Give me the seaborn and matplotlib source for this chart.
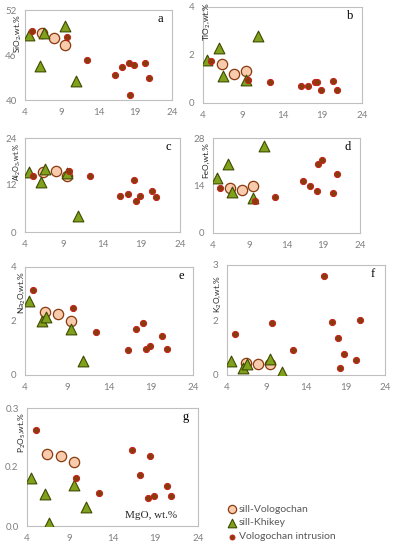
import numpy as np
import pandas as pd
import matplotlib
matplotlib.use("Agg")
import matplotlib.pyplot as plt
import seaborn as sns

sns.set_style("white")
plt.rcParams["font.family"] = ["Lato", "DejaVu Sans"]
plt.rcParams["mathtext.default"] = "regular"

# ==== data (MgO on x, oxide on y) ====
mgo_sill_v = [6.35, 7.95, 9.45]
mgo_khikey = [4.5, 6.05, 6.55, 9.45, 10.9]
mgo_intr = [5.0, 9.7, 12.4, 16.3, 17.25, 18.1, 18.35, 18.85, 20.35, 20.85]

sio2_sill_v = [49.0, 48.3, 47.4]
sio2_khikey = [48.7, 44.5, 49.0, 49.9, 42.6]
sio2_intr = [49.2, 48.4, 45.4, 43.4, 44.4, 44.9, 40.7, 44.7, 45.0, 43.0]

tio2_sill_v = [1.63, 1.22, 1.35]
tio2_khikey = [1.8, 2.29, 1.14, 0.97, 2.8]
tio2_intr = [1.76, 0.94, 0.86, 0.69, 0.69, 0.86, 0.86, 0.53, 0.9, 0.56]

al2o3_sill_v = [15.4, 15.55, 14.2]
al2o3_khikey = [15.4, 12.85, 16.2, 15.0, 3.97]
al2o3_intr = [14.3, 15.55, 14.4, 9.3, 9.7, 13.3, 7.8, 9.2, 10.5, 9.0]

feo_sill_v = [13.4, 12.8, 13.9]
feo_khikey = [16.3, 20.2, 12.2, 10.3, 25.5]
feo_intr = [13.3, 9.5, 10.75, 15.4, 14.0, 12.3, 20.2, 21.6, 11.9, 17.3]

na2o_sill_v = [2.34, 2.25, 1.99]
na2o_khikey = [2.74, 2.0, 2.15, 1.69, 0.53]
na2o_intr = [3.16, 2.5, 1.61, 0.92, 1.69, 1.94, 0.95, 1.07, 1.44, 0.95]

k2o_sill_v = [0.32, 0.29, 0.30]
k2o_khikey = [0.38, 0.19, 0.29, 0.44, 0.09]
k2o_intr = [1.12, 1.43, 0.67, 2.7, 1.45, 1.02, 0.19, 0.58, 0.42, 1.5]

p2o5_sill_v = [0.183, 0.179, 0.162]
p2o5_khikey = [0.123, 0.081, 0.0085, 0.105, 0.049]
p2o5_intr = [0.245, 0.123, 0.083, 0.192, 0.13, 0.072, 0.178, 0.076, 0.102, 0.077]

x_ticks = [4, 9, 14, 19, 24]

# ==== layout ====
W, H = 395, 550

def box(l, r, t, b):
    return [l / W, 1 - b / H, (r - l) / W, (b - t) / H]

panels = [
    # letter, ylabel, y values, ylim, yticks, ytick labels, axes box, label offset
    ("a", "SiO$_2$,wt.%", (sio2_sill_v, sio2_khikey, sio2_intr), (40, 52), [40, 46, 52], ["40", "46", "52"],
     box(25, 172, 10, 100), (-7, -4)),
    ("b", "TiO$_2$,wt.%", (tio2_sill_v, tio2_khikey, tio2_intr), (0, 4), [0, 2, 4], ["0", "2", "4"],
     box(203, 362, 7, 103), (4, 5)),
    ("c", "Al$_2$O$_3$,wt.%", (al2o3_sill_v, al2o3_khikey, al2o3_intr), (0, 24), [0, 12, 24], ["0", "12", "24"],
     box(25, 180, 138, 232), (-8, -4.5)),
    ("d", "FeO,wt.%", (feo_sill_v, feo_khikey, feo_intr), (0, 28), [0, 14, 28], ["0", "14", "28"],
     box(213, 360, 138, 233), (-7, -4)),
    ("e", "Na$_2$O,wt.%", (na2o_sill_v, na2o_khikey, na2o_intr), (0, 4), [0, 2, 4], ["0", "2", "4"],
     box(25, 193, 267, 375), (-3, -4)),
    ("f", "K$_2$O,wt.%", (k2o_sill_v, k2o_khikey, k2o_intr), (0, 3), [0, 1.5, 3], ["0", "2", "3"],
     box(227, 385, 265, 375), (-9, -10)),
    ("g", "P$_2$O$_5$,wt.%", (p2o5_sill_v, p2o5_khikey, p2o5_intr), (0, 0.3), [0, 0.15, 0.3], ["0.0", "0.2", "0.3"],
     box(27, 198, 408, 526), (-5, -4)),
]

groups = [
    ("sill-Vologochan", mgo_sill_v, dict(marker="o", s=55, color="#F8CBAD", edgecolor="#8B3A0E", linewidth=0.9)),
    ("sill-Khikey", mgo_khikey, dict(marker="^", s=60, color="#7FA11B", edgecolor="#3F4A00", linewidth=0.8)),
    ("Vologochan intrusion", mgo_intr, dict(marker="o", s=20, color="#8A3B0C", edgecolor="#C8201C", linewidth=0.7)),
]

fig = plt.figure(figsize=(W / 100, H / 100), dpi=100)

for letter, ylabel, yvals, ylim, yticks, ylabs, rect, (dx, dy) in panels:
    ax = fig.add_axes(rect)
    for (name, mgo, kw), y in zip(groups, yvals):
        df = pd.DataFrame({"MgO": mgo, "val": y})
        sns.scatterplot(data=df, x="MgO", y="val", ax=ax, label=name, legend=False, zorder=3, **kw)
    ax.set_xlim(4, 24)
    ax.set_ylim(*ylim)
    ax.set_xticks(x_ticks)
    ax.set_yticks(yticks)
    ax.set_yticklabels(ylabs)
    ax.set_xlabel("")
    ax.set_ylabel("")
    ax.tick_params(labelsize=7, colors="#808080", length=2, width=0.6, pad=4)
    for sp in ax.spines.values():
        sp.set_color("#BFBFBF")
        sp.set_linewidth(0.8)
    ax.annotate(ylabel, xy=(0, 1), xycoords="axes fraction", xytext=(dx, dy),
                textcoords="offset pixels", rotation=90, ha="center", va="top",
                fontsize=5.2 if letter == "c" else 6, color="#262626")
    ax.annotate(letter, xy=(1, 1), xycoords="axes fraction", xytext=(-12, -9),
                textcoords="offset pixels", ha="center", va="center",
                fontsize=9, family="Liberation Serif", color="black")
    if letter == "g":
        ax.annotate("MgO, wt.%", xy=(1, 0), xycoords="axes fraction", xytext=(-21, 11),
                    textcoords="offset pixels", ha="right", va="center",
                    fontsize=8, family="Liberation Serif", color="#262626")
        handles, labels = ax.get_legend_handles_labels()

leg = fig.legend(handles, labels, loc="upper left", bbox_to_anchor=(224 / W, 1 - 499 / H),
                 frameon=False, fontsize=7.5, handlelength=0.6, handletextpad=0.3,
                 labelspacing=0.45, borderpad=0, markerscale=0.8)
for t in leg.get_texts():
    t.set_color("#595959")

fig.savefig("out.png", dpi=100)
